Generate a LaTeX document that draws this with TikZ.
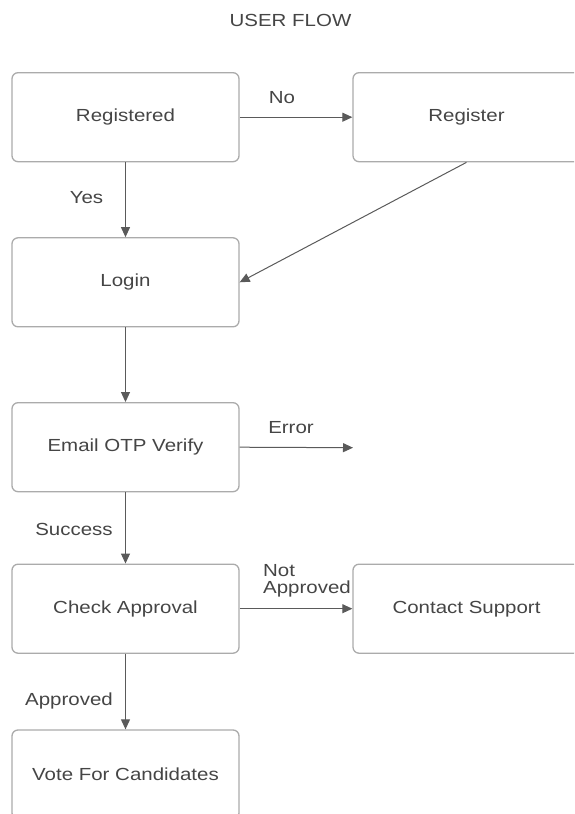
\documentclass[tikz,border=0pt]{standalone}
\usepackage{fontspec}
\setmainfont{Liberation Sans}[FakeStretch=1.17]
\usetikzlibrary{arrows.meta}

\definecolor{boxline}{HTML}{ABABAB}
\definecolor{flowline}{HTML}{5A5A5A}
\definecolor{txt}{HTML}{454545}

\tikzset{
	box/.style={draw=boxline, line width=1.3pt, rounded corners=6pt,
		minimum width=227pt, minimum height=89pt, text=txt},
	flow/.style={draw=flowline, line width=1pt, -{Triangle[length=10pt,width=9pt]}},
	lbl/.style={text=txt, inner sep=0pt}
}

\begin{document}
\begin{tikzpicture}[x=1pt,y=-1pt,font=\fontsize{17.5}{17}\selectfont]
	\useasboundingbox (0,0) rectangle (574,814);
	\clip (0,0) rectangle (574,814);
	\node[lbl,anchor=base] (title) at (290.5,26) {USER FLOW};
	\node[box] (registered) at (125.5,117.2) {Registered};
	\node[box] (register) at (466.5,117.2) {Register};
	\node[box] (login) at (125.5,282.3) {Login};
	\node[box] (email) at (125.5,447.2) {Email OTP Verify};
	\node[box] (check) at (125.5,608.7) {Check Approval};
	\node[box] (contact) at (466.5,608.7) {Contact Support};
	\node[box] (vote) at (125.5,774.5) {Vote For Candidates};
	\coordinate (err) at (353,447.7);
	\draw[flow] (registered) -- (register);
	\draw[flow] (registered) -- (login);
	\draw[flow] (register.south) -- (login.east);
	\draw[flow] (login) -- (email);
	\draw[flow] (email.east) -- (err);
	\draw[flow] (email) -- (check);
	\draw[flow] (check) -- (contact);
	\draw[flow] (check) -- (vote);
	\node[lbl,anchor=base] (no) at (282,103.8) {No};
	\node[lbl,anchor=base] (yes) at (86.5,203) {Yes};
	\node[lbl,anchor=base] (error) at (291,433.8) {Error};
	\node[lbl,anchor=base] (success) at (74,535.8) {Success};
	\node[lbl,anchor=north west,align=left] (notok) at (263,564) {Not\\Approved};
	\node[lbl,anchor=base] (approved) at (69,705.5) {Approved};
\end{tikzpicture}
\end{document}
